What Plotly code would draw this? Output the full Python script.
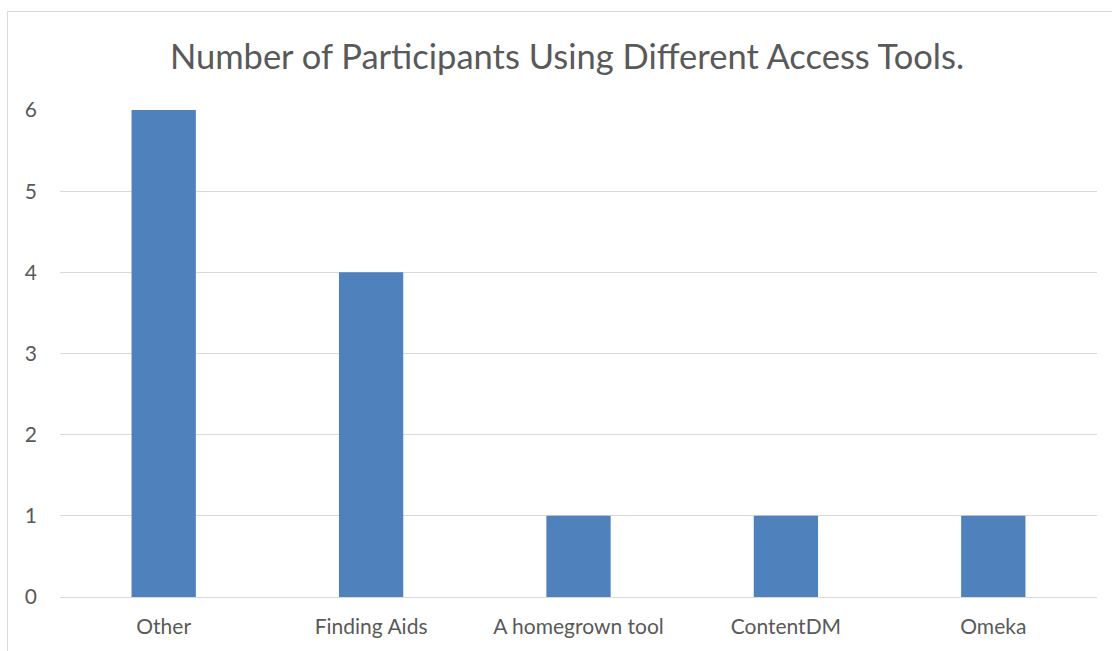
import plotly.graph_objects as go

categories = ["Other", "Finding Aids", "A homegrown tool", "ContentDM", "Omeka"]
values = [6, 4, 1, 1, 1]
y_ticks = [0, 1, 2, 3, 4, 5, 6]
title_text = "Number of Participants Using Different Access Tools."

W, H = 1112, 651
L, R, T, B = 60, 15, 110, 54
pw, ph = W - L - R, H - T - B

fig = go.Figure(go.Bar(x=categories, y=values, marker=dict(color="#4F81BD", line=dict(width=0)), width=0.31))

fig.update_layout(
    width=W, height=H,
    margin=dict(l=L, r=R, t=T, b=B),
    paper_bgcolor="white", plot_bgcolor="white",
    font=dict(family="Lato, Open Sans, sans-serif", color="#595959", size=21),
    title=dict(text=title_text, x=(567 - L) / pw, xref="paper", xanchor="center",
               y=1 - 57 / H, yanchor="middle", font=dict(size=34.5, color="#595959")),
    showlegend=False,
    bargap=0.69,
)
fig.update_yaxes(range=[0, 6], tickvals=y_ticks, showgrid=True, gridcolor="#d9d9d9", gridwidth=1,
                 zeroline=True, zerolinecolor="#d9d9d9", zerolinewidth=1, showline=False,
                 ticks="", ticklabelstandoff=22, tickfont=dict(size=21, color="#595959"))
fig.update_xaxes(showgrid=False, showline=False, ticks="", ticklabelstandoff=15,
                 tickfont=dict(size=21, color="#595959"))

fig.add_shape(type="rect", xref="paper", yref="paper",
              x0=(7.5 - L) / pw, x1=(1120 - L) / pw,
              y0=-(70) / ph, y1=(H - B - 11.5) / ph,
              line=dict(color="#d9d9d9", width=1), fillcolor="rgba(0,0,0,0)", layer="below")

fig.write_html("out.html")
